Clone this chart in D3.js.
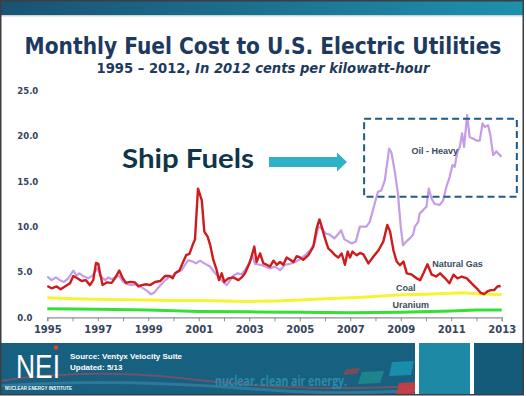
<!DOCTYPE html>
<html>
<head>
<meta charset="utf-8">
<script src="https://cdn.jsdelivr.net/npm/d3@7"></script>
<style>
  body { margin: 0; background: #fff; }
  svg { display: block; }
</style>
</head>
<body>
<script>
const W = 526, H = 396;

// values: [year, cents per kWh]
const natGas = [
  [1995.00, 3.45], [1995.17, 3.2], [1995.37, 3.4], [1995.53, 3.1], [1995.70, 3.4], [1995.90, 3.75],
  [1996.03, 4.55], [1996.19, 4.3], [1996.36, 4.0], [1996.53, 4.1], [1996.69, 3.55], [1996.82, 4.1],
  [1996.93, 6.0], [1997.02, 5.9], [1997.09, 4.85], [1997.19, 3.55], [1997.35, 3.85], [1997.55, 3.8],
  [1997.68, 4.3], [1997.85, 5.15], [1997.99, 4.3], [1998.12, 3.8], [1998.28, 3.9], [1998.47, 3.85],
  [1998.61, 3.4], [1998.74, 3.55], [1998.91, 3.65], [1999.07, 3.55], [1999.27, 3.9], [1999.47, 4.0],
  [1999.66, 4.55], [1999.86, 4.55], [1999.97, 4.3], [2000.06, 4.85], [2000.23, 5.15], [2000.39, 6.15],
  [2000.50, 6.85], [2000.63, 7.0], [2000.76, 8.0], [2000.85, 8.6], [2000.97, 14.2], [2001.05, 13.5],
  [2001.12, 12.9], [2001.22, 9.45], [2001.35, 8.9], [2001.45, 8.0], [2001.58, 6.3], [2001.71, 5.2],
  [2001.80, 4.1], [2001.91, 4.85], [2002.01, 3.9], [2002.17, 4.3], [2002.37, 4.4], [2002.57, 4.1],
  [2002.70, 4.4], [2002.83, 4.85], [2003.03, 6.1], [2003.20, 7.8], [2003.29, 6.1], [2003.43, 7.05],
  [2003.56, 5.95], [2003.69, 5.8], [2003.82, 5.6], [2003.96, 6.25], [2004.09, 5.8], [2004.22, 6.1],
  [2004.35, 5.8], [2004.48, 6.6], [2004.62, 6.35], [2004.75, 6.1], [2004.88, 6.75], [2005.01, 6.6],
  [2005.14, 6.35], [2005.34, 6.85], [2005.54, 7.8], [2005.67, 9.8], [2005.78, 10.8], [2005.87, 10.0],
  [2006.00, 8.7], [2006.13, 7.6], [2006.27, 7.25], [2006.40, 6.85], [2006.53, 6.6], [2006.66, 7.05],
  [2006.79, 5.8], [2006.90, 7.25], [2006.99, 6.6], [2007.09, 7.25], [2007.19, 7.0], [2007.26, 6.85],
  [2007.39, 7.1], [2007.52, 6.95], [2007.72, 5.95], [2007.92, 6.7], [2008.12, 7.4], [2008.31, 8.35],
  [2008.47, 10.2], [2008.58, 9.45], [2008.71, 7.4], [2008.84, 6.15], [2008.97, 5.75], [2009.11, 6.15],
  [2009.24, 4.85], [2009.44, 4.7], [2009.63, 4.3], [2009.77, 4.1], [2009.90, 4.85], [2010.06, 5.85],
  [2010.23, 4.7], [2010.40, 4.5], [2010.56, 4.85], [2010.76, 4.3], [2010.93, 3.75], [2011.09, 4.7],
  [2011.25, 4.3], [2011.42, 4.5], [2011.62, 4.3], [2011.81, 3.75], [2012.01, 3.2], [2012.17, 2.7],
  [2012.30, 2.55], [2012.43, 2.85], [2012.57, 3.0], [2012.70, 3.0], [2012.83, 3.4], [2012.96, 3.45]
];

const oilHeavy = [
  [1995.00, 4.5], [1995.17, 4.1], [1995.34, 4.4], [1995.50, 4.1], [1995.66, 3.9], [1995.83, 4.3],
  [1996.03, 5.15], [1996.16, 4.6], [1996.27, 4.85], [1996.42, 4.55], [1996.62, 4.3], [1996.79, 4.6],
  [1996.98, 5.4], [1997.12, 4.5], [1997.29, 4.1], [1997.42, 4.4], [1997.55, 4.2], [1997.68, 4.4],
  [1997.85, 4.55], [1998.01, 3.9], [1998.17, 3.65], [1998.34, 3.55], [1998.54, 3.65], [1998.74, 3.3],
  [1998.94, 2.95], [1999.10, 2.55], [1999.23, 2.7], [1999.40, 3.3], [1999.60, 3.9], [1999.80, 4.4],
  [1999.99, 4.6], [2000.15, 5.0], [2000.32, 5.2], [2000.45, 5.75], [2000.58, 6.3], [2000.76, 6.15],
  [2000.89, 5.95], [2001.05, 6.25], [2001.25, 5.9], [2001.45, 5.6], [2001.65, 4.85], [2001.80, 4.4],
  [2001.97, 3.9], [2002.11, 3.55], [2002.24, 4.1], [2002.37, 4.6], [2002.54, 4.85], [2002.70, 4.75],
  [2002.83, 5.2], [2002.96, 5.8], [2003.12, 6.85], [2003.23, 5.9], [2003.43, 5.8], [2003.63, 5.6],
  [2003.82, 5.4], [2004.02, 5.6], [2004.22, 5.2], [2004.42, 5.8], [2004.62, 5.9], [2004.82, 6.1],
  [2005.01, 6.4], [2005.21, 6.85], [2005.41, 7.4], [2005.58, 8.15], [2005.74, 10.0], [2005.87, 9.8],
  [2006.03, 9.25], [2006.20, 9.1], [2006.37, 8.7], [2006.50, 9.1], [2006.64, 9.6], [2006.77, 8.6],
  [2006.93, 8.35], [2007.06, 8.15], [2007.22, 8.35], [2007.38, 10.0], [2007.64, 10.0], [2007.77, 10.5],
  [2007.97, 12.55], [2008.10, 13.85], [2008.23, 14.0], [2008.37, 15.1], [2008.54, 18.6], [2008.63, 18.2],
  [2008.76, 16.2], [2008.89, 13.65], [2009.00, 10.0], [2009.09, 7.95], [2009.22, 8.35], [2009.36, 8.7],
  [2009.49, 9.1], [2009.56, 10.0], [2009.69, 10.5], [2009.75, 11.45], [2009.88, 11.8], [2010.02, 12.2],
  [2010.11, 14.2], [2010.22, 13.1], [2010.35, 12.5], [2010.55, 12.4], [2010.68, 12.9], [2010.81, 14.4],
  [2010.94, 15.5], [2011.05, 16.8], [2011.14, 16.6], [2011.23, 18.1], [2011.34, 18.8], [2011.43, 20.3],
  [2011.51, 18.8], [2011.63, 22.3], [2011.73, 19.9], [2011.87, 19.7], [2012.00, 19.5], [2012.13, 19.5],
  [2012.24, 21.4], [2012.33, 21.0], [2012.46, 21.2], [2012.55, 20.1], [2012.66, 17.9], [2012.79, 18.3],
  [2012.99, 17.7]
];

const coal = [
  [1995, 2.15], [1996, 2.05], [1997, 2.0], [1998, 1.95], [1999, 1.9], [2000, 1.85], [2001, 1.85],
  [2002, 1.8], [2003, 1.75], [2004, 1.8], [2005, 1.9], [2006, 2.05], [2007, 2.15], [2008, 2.3],
  [2009, 2.5], [2010, 2.55], [2011, 2.65], [2011.5, 2.7], [2012, 2.6], [2013, 2.5]
];

const uranium = [
  [1995, 0.95], [1997, 0.9], [1999, 0.8], [2001, 0.65], [2003, 0.6], [2005, 0.55], [2007, 0.5],
  [2009, 0.55], [2011, 0.7], [2012, 0.8], [2013, 0.8]
];

const yTicks = [0, 5, 10, 15, 20, 25];
const xTicks = d3.range(1995, 2014);
const xLabelYears = [1995, 1997, 1999, 2001, 2003, 2005, 2007, 2009, 2011, 2013];

const svg = d3.select("body").append("svg")
    .attr("width", W)
    .attr("height", H);

// squeeze a text horizontally so that it spans the given width
function fitWidth(sel, cx, baseline, width) {
    const len = sel.node().getComputedTextLength();
    const s = Math.min(1, width / len);
    sel.attr("x", 0).attr("y", 0)
        .attr("transform", `translate(${cx},${baseline}) scale(${s},1)`);
}

const defs = svg.append("defs");
const grad = defs.append("linearGradient").attr("id", "topband");
grad.append("stop").attr("offset", "0%").attr("stop-color", "#1a5272");
grad.append("stop").attr("offset", "100%").attr("stop-color", "#1d91ad");

svg.append("rect").attr("width", W).attr("height", H).attr("fill", "#fff");
svg.append("rect").attr("width", 524).attr("height", 15).attr("fill", "url(#topband)");
svg.append("rect").attr("y", 15).attr("width", 524).attr("height", 1.5).attr("fill", "#c9d3da");

// titles
const title = svg.append("text")
    .attr("text-anchor", "middle")
    .style("font-family", "DejaVu Sans")
    .style("font-weight", "bold")
    .style("font-size", "23px")
    .style("fill", "#1d3a5e")
    .text("Monthly Fuel Cost to U.S. Electric Utilities");
fitWidth(title, 263, 54, 477);

const sub = svg.append("text")
    .attr("text-anchor", "middle")
    .style("font-family", "DejaVu Sans")
    .style("font-weight", "bold")
    .style("font-size", "13.5px")
    .style("fill", "#1d3a5e");
sub.append("tspan").text("1995 \u2013 2012, ");
sub.append("tspan").style("font-style", "italic").text("In 2012 cents per kilowatt-hour");
fitWidth(sub, 263, 73, 333);

// scales
const x = d3.scaleLinear().domain([1995, 2013]).range([47.3, 501.7]);
const y = d3.scaleLinear().domain([0, 25]).range([317.3, 90.7]);

const line = d3.line()
    .x(d => x(d[0]))
    .y(d => y(d[1]));

const chart = svg.append("g");

// axes
const xAxis = chart.append("g")
    .attr("transform", `translate(0,${y(0)})`)
    .call(d3.axisBottom(x)
        .tickValues(xTicks)
        .tickSize(4)
        .tickPadding(5)
        .tickFormat(d => xLabelYears.includes(d) ? d : ""));
xAxis.select(".domain").attr("stroke", "#8a8f96").attr("stroke-width", 1.2);
xAxis.selectAll(".tick line").attr("stroke", "#8a8f96");
xAxis.selectAll("text")
    .style("font-family", "DejaVu Sans")
    .style("font-weight", "bold")
    .style("font-size", "10px")
    .style("fill", "#34445a");

const yAxis = chart.append("g")
    .attr("transform", `translate(${x(1995)},0)`)
    .call(d3.axisLeft(y).tickValues(yTicks).tickSize(0).tickFormat(d3.format(".1f")));
yAxis.select(".domain").remove();
yAxis.selectAll("text")
    .attr("x", -30)
    .attr("text-anchor", "start")
    .style("font-family", "DejaVu Sans")
    .style("font-weight", "bold")
    .style("font-size", "8.5px")
    .style("fill", "#34445a");

// series
chart.append("path").datum(uranium)
    .attr("d", line).attr("fill", "none")
    .attr("stroke", "#35e035").attr("stroke-width", 3);

chart.append("path").datum(coal)
    .attr("d", line).attr("fill", "none")
    .attr("stroke", "#f6f432").attr("stroke-width", 3);

chart.append("path").datum(oilHeavy)
    .attr("d", line).attr("fill", "none")
    .attr("stroke", "#c49ce8").attr("stroke-width", 2.2)
    .attr("stroke-linejoin", "round");

chart.append("path").datum(natGas)
    .attr("d", line).attr("fill", "none")
    .attr("stroke", "#cf1b1b").attr("stroke-width", 2.4)
    .attr("stroke-linejoin", "round");

// series labels
const labels = [
  { text: "Oil - Heavy", t: 2010.35, v: 18.05 },
  { text: "Natural Gas", t: 2011.25, v: 5.6 },
  { text: "Coal", t: 2009.2, v: 2.85 },
  { text: "Uranium", t: 2009.4, v: 1.0 }
];
chart.selectAll(".series-label")
    .data(labels)
    .enter().append("text")
    .attr("class", "series-label")
    .attr("x", d => x(d.t))
    .attr("y", d => y(d.v))
    .attr("text-anchor", "middle")
    .style("font-family", "Liberation Sans")
    .style("font-weight", "bold")
    .style("font-size", "9px")
    .style("fill", "#3a4a5e")
    .text(d => d.text);

// dashed highlight box
chart.append("rect")
    .attr("x", x(2007.55))
    .attr("y", y(21.9))
    .attr("width", x(2013.6) - x(2007.55))
    .attr("height", y(13.3) - y(21.9))
    .attr("fill", "none")
    .attr("stroke", "#1f5a8c")
    .attr("stroke-width", 2)
    .attr("stroke-dasharray", "7,4");

// "Ship Fuels" callout
svg.append("text")
    .attr("x", 122).attr("y", 168)
    .attr("textLength", 132).attr("lengthAdjust", "spacingAndGlyphs")
    .style("font-family", "Lato")
    .style("font-weight", "bold")
    .style("font-size", "27px")
    .style("fill", "#0f3549")
    .text("Ship Fuels");

svg.append("path")
    .attr("d", "M269,157 L337,157 L337,152.5 L347,162 L337,171.5 L337,167 L269,167 Z")
    .attr("fill", "#2fb1c7");

// footer
svg.append("rect").attr("y", 343).attr("width", 524).attr("height", 52).attr("fill", "#17607f");
svg.append("path")
    .attr("d", "M0,381 C60,372 120,372 180,378 S300,392 420,386")
    .attr("fill", "none").attr("stroke", "#b54a5a").attr("stroke-width", 2).attr("opacity", 0.55);
svg.append("path")
    .attr("d", "M0,386 C80,380 160,382 240,388 S360,394 420,390")
    .attr("fill", "none").attr("stroke", "#3f89a6").attr("stroke-width", 3).attr("opacity", 0.6);

const tiles = [
  { pts: "346,369 360,368 357,374 343,375", fill: "#8a4a55" },
  { pts: "362,372 384,371 380,383 358,384", fill: "#1f8b8f" },
  { pts: "392,362 414,361 411,375 389,376", fill: "#1b95b5" },
  { pts: "399,383 416,382 414,394 396,394", fill: "#d83b3b" }
];
svg.selectAll(".tile")
    .data(tiles)
    .enter().append("polygon")
    .attr("class", "tile")
    .attr("points", d => d.pts)
    .attr("fill", d => d.fill)
    .attr("opacity", 0.85);

svg.append("text")
    .attr("x", 215).attr("y", 386)
    .attr("textLength", 132).attr("lengthAdjust", "spacingAndGlyphs")
    .style("font-family", "Open Sans")
    .style("font-weight", "bold")
    .style("font-size", "14px")
    .style("fill", "#2f89a8")
    .text("nuclear. clean air energy.");

svg.append("rect").attr("x", 415).attr("y", 343).attr("width", 4).attr("height", 52).attr("fill", "#fff");
svg.append("rect").attr("x", 419).attr("y", 343).attr("width", 51).attr("height", 52).attr("fill", "#1e89a5");
svg.append("rect").attr("x", 470).attr("y", 343).attr("width", 4).attr("height", 52).attr("fill", "#fff");
svg.append("rect").attr("x", 474).attr("y", 343).attr("width", 50).attr("height", 52).attr("fill", "#135b78");

// NEI logo
svg.append("text")
    .attr("x", 16).attr("y", 378)
    .attr("textLength", 44).attr("lengthAdjust", "spacingAndGlyphs")
    .style("font-family", "Liberation Sans Narrow, Liberation Sans")
    .style("font-size", "33px")
    .style("fill", "#fff")
    .text("NEI");
svg.append("circle").attr("cx", 56).attr("cy", 347.5).attr("r", 2.2).attr("fill", "#e0453a");
svg.append("text")
    .attr("x", 5).attr("y", 390)
    .attr("textLength", 67).attr("lengthAdjust", "spacingAndGlyphs")
    .style("font-family", "Liberation Sans")
    .style("font-weight", "bold")
    .style("font-size", "4.5px")
    .style("fill", "#fff")
    .text("NUCLEAR ENERGY INSTITUTE");

svg.append("text")
    .attr("x", 70).attr("y", 359)
    .style("font-family", "Liberation Sans")
    .style("font-weight", "bold")
    .style("font-size", "8px")
    .style("fill", "#fff")
    .text("Source: Ventyx Velocity Suite");
svg.append("text")
    .attr("x", 70).attr("y", 370)
    .style("font-family", "Liberation Sans")
    .style("font-weight", "bold")
    .style("font-size", "8px")
    .style("fill", "#fff")
    .text("Updated: 5/13");

// slide frame
svg.append("rect")
    .attr("x", 0.75).attr("y", 0.75)
    .attr("width", 522.5).attr("height", 394)
    .attr("fill", "none")
    .attr("stroke", "#3a3f44")
    .attr("stroke-width", 1.5);
</script>
</body>
</html>
